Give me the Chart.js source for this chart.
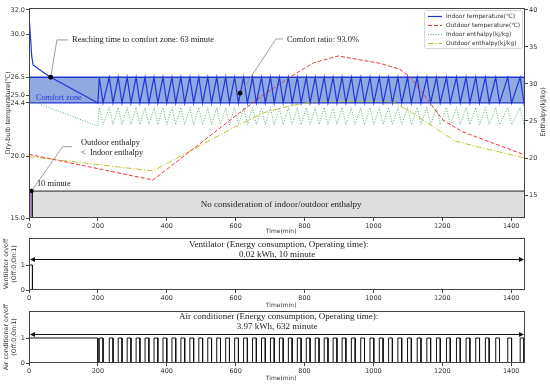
<!DOCTYPE html>
<html><head><meta charset="utf-8">
<script src="https://cdn.jsdelivr.net/npm/chart.js@4.4.0/dist/chart.umd.min.js"></script>
<style>
html,body{margin:0;padding:0;background:#fff;}
#wrap{position:relative;width:550px;height:385px;overflow:hidden;background:#fff}
canvas{position:absolute;left:0}
</style></head><body>
<div id="wrap">
<canvas id="c1" width="550" height="240" style="top:0px"></canvas>
<canvas id="c2" width="550" height="80" style="top:228px"></canvas>
<canvas id="c3" width="550" height="85" style="top:300px"></canvas>
</div>
<script>
// ---------------- DATA ----------------
const timeTicks = [0, 200, 400, 600, 800, 1000, 1200, 1400];
const tempTicks = [15, 20, 24.4, 25, 26.5, 30, 32];
const enthTicks = [15, 20, 25, 30, 35, 40];
const onOffTicks = [0, 1];

const comfortUpper = 26.5;
const comfortLower = 24.4;
const enthalpyBoxTop = 17.2;          // top of grey "no consideration" box (°C axis)
const ventWindow = [0, 10];          // ventilator on, minutes
const acInitialOn = [0, 200];        // AC continuous run, minutes

// indoor temperature pull-down, minutes / °C
const indoorTempInitT = [0, 1, 5, 8, 12, 22, 37, 63, 200];
const indoorTempInitV = [32.0, 31.2, 29.5, 28.2, 27.5, 27.3, 27.0, 26.5, 24.4];
const indoorTempEnd = 24.8;

// AC cycling after 200 min
const acOnStart = [204, 233, 259, 285, 311, 337, 363, 389, 415, 441, 467, 493, 519, 545, 571, 597, 623, 649, 675, 701,
  727, 753, 779, 805, 831, 857, 883, 909, 936, 963, 990, 1017, 1044, 1071, 1099, 1127, 1155, 1183, 1212, 1241,
  1269, 1297, 1325, 1355, 1390, 1426];
const acOnEnd = [215, 244, 270, 296, 322, 348, 374, 400, 426, 452, 478, 504, 530, 556, 582, 608, 634, 660, 686, 712,
  738, 764, 790, 816, 842, 868, 894, 920, 947, 974, 1001, 1028, 1055, 1082, 1110, 1138, 1166, 1194, 1223, 1252,
  1280, 1308, 1336, 1366, 1401, 1437];

// outdoor temperature
const outdoorTempT = [0, 360, 584, 680, 777, 825, 898, 1019, 1077, 1106, 1164, 1202, 1258, 1440];
const outdoorTempV = [20.2, 18.1, 23.0, 25.05, 26.85, 27.67, 28.24, 27.64, 27.15, 26.55, 24.4, 23.0, 22.05, 20.15];

// outdoor enthalpy (kj/kg)
const outdoorEnthT = [0, 360, 584, 680, 753, 816, 845, 1040, 1058, 1106, 1164, 1237, 1295, 1440];
const outdoorEnthV = [20.2, 18.25, 23.85, 26.1, 27.0, 27.5, 27.66, 27.66, 27.5, 26.3, 24.5, 22.3, 21.6, 20.0];

// indoor enthalpy (kj/kg)
const indoorEnthInitT = [14, 200];
const indoorEnthInitV = [27.6, 24.3];
const indoorEnthTop = 26.8;
const indoorEnthBottom = 24.5;
const indoorEnthEnd = 25.0;

// annotation markers
const reachPoint = [63, 26.5];
const ratioPoint = [613, 25.2];
const ventPoint = [7, 17.2];

const seriesLabels = ['Indoor temperature(℃)', 'Outdoor temperature(℃)', 'Indoor enthalpy(kj/kg)', 'Outdoor enthalpy(kj/kg)'];

// ---------------- BUILD TABLES ----------------
const pts = (T, V) => T.map((t, i) => ({x: t, y: V[i]}));
const indoorTemp = pts(indoorTempInitT, indoorTempInitV);
const indoorEnth = pts(indoorEnthInitT, indoorEnthInitV);
acOnStart.forEach((s, i) => {
  indoorTemp.push({x: s, y: comfortUpper}, {x: acOnEnd[i], y: comfortLower});
  indoorEnth.push({x: s, y: indoorEnthTop}, {x: acOnEnd[i], y: indoorEnthBottom});
});
indoorTemp.push({x: 1440, y: indoorTempEnd});
indoorEnth.push({x: 1440, y: indoorEnthEnd});

const acSeries = [{x: acInitialOn[0], y: 1}, {x: acInitialOn[1], y: 1}, {x: acInitialOn[1], y: 0}];
acOnStart.forEach((s, i) => {
  acSeries.push({x: s, y: 0}, {x: s, y: 1}, {x: acOnEnd[i], y: 1}, {x: acOnEnd[i], y: 0});
});
acSeries.push({x: 1440, y: 0});
const ventSeries = [{x: ventWindow[0], y: 1}, {x: ventWindow[1], y: 1}, {x: ventWindow[1], y: 0}, {x: 1440, y: 0}];

// ---------------- STYLE ----------------
const BLUE = '#2236d8', RED = '#e8393b', GREEN = '#4fb06f', YEL = '#c2c52a';
const AX = '#444', TICKC = '#333';
const SANS = '"DejaVu Sans", sans-serif', SERIF = '"Liberation Serif", "Times New Roman", serif';
const tickFont = {family: SANS, size: 6.5};

function fixedTicks(arr) { return s => { s.ticks = arr.map(v => ({value: v})); }; }
function xScale(h) {
  return {type: 'linear', min: 0, max: 1440,
    afterBuildTicks: fixedTicks(timeTicks), afterFit: s => { s.height = h; },
    grid: {display: true, drawOnChartArea: false, tickLength: 3, color: AX},
    border: {display: false},
    ticks: {font: tickFont, color: TICKC, padding: 1, maxRotation: 0, autoSkip: false, callback: v => String(v)}};
}
function yScale(min, max, arr, fmt, pos, w) {
  return {type: 'linear', position: pos, min: min, max: max,
    afterBuildTicks: fixedTicks(arr), afterFit: s => { s.width = w; },
    grid: {display: true, drawOnChartArea: false, tickLength: 3, color: AX},
    border: {display: false},
    ticks: {font: tickFont, color: TICKC, padding: 1, autoSkip: false, callback: fmt}};
}

const framePlugin = {id: 'frame', afterDraw(c) {
  const a = c.chartArea, ctx = c.ctx;
  ctx.save(); ctx.strokeStyle = AX; ctx.lineWidth = 1;
  ctx.strokeRect(Math.round(a.left) + 0.5, Math.round(a.top) + 0.5, Math.round(a.right - a.left) - 1, Math.round(a.bottom - a.top) - 1);
  ctx.restore();
}};

function txt(ctx, s, x, y, font, color, align, rot) {
  ctx.save(); ctx.font = font; ctx.fillStyle = color; ctx.textAlign = align || 'left'; ctx.textBaseline = 'middle';
  ctx.translate(x, y); if (rot) ctx.rotate(rot); ctx.fillText(s, 0, 0); ctx.restore();
}

// ---------------- TOP CHART ----------------
const topTexts = {id: 'topTexts', afterDraw(c) {
  const ctx = c.ctx, x = c.scales.x, y = c.scales.y, a = c.chartArea;
  const af = '8.4px ' + SERIF, sf = '9px ' + SERIF;
  txt(ctx, 'Reaching time to comfort zone: 63 minute', x.getPixelForValue(125), y.getPixelForValue(29.55), af, '#222');
  txt(ctx, 'Comfort ratio: 93.0%', x.getPixelForValue(749), y.getPixelForValue(29.6), af, '#222');
  txt(ctx, 'Comfort zone', x.getPixelForValue(20), y.getPixelForValue(24.8), '8.3px ' + SERIF, BLUE);
  txt(ctx, 'Outdoor enthalpy', x.getPixelForValue(151), y.getPixelForValue(21.15), af, '#222');
  txt(ctx, '<  Indoor enthalpy', x.getPixelForValue(151), y.getPixelForValue(20.34), af, '#222');
  txt(ctx, '10 minute', x.getPixelForValue(23), y.getPixelForValue(17.78), af, '#222');
  txt(ctx, 'No consideration of indoor/outdoor enthalpy', x.getPixelForValue(732), y.getPixelForValue(16.06), sf, '#222', 'center');
  txt(ctx, 'Time(min)', x.getPixelForValue(732), a.bottom + 13, '6px ' + SANS, TICKC, 'center');
  txt(ctx, 'Dry-bulb temperature(℃)', 8, 113, '6.5px ' + SANS, TICKC, 'center', -Math.PI / 2);
  txt(ctx, 'Enthalpy(kj/kg)', 543, 112, '6.5px ' + SANS, TICKC, 'center', -Math.PI / 2);
  // legend
  const lx = 424, ly = 10, lw = 98, lh = 38;
  ctx.save();
  ctx.fillStyle = 'rgba(255,255,255,0.9)'; ctx.strokeStyle = '#ccc'; ctx.lineWidth = 0.8;
  ctx.beginPath(); ctx.roundRect(lx + 0.5, ly + 0.5, lw, lh, 2); ctx.fill(); ctx.stroke();
  const ds = c.data.datasets.filter(d => seriesLabels.includes(d.label));
  seriesLabels.forEach((lab, i) => {
    const d = ds.find(q => q.label === lab);
    const yy = ly + 6.5 + i * 9;
    ctx.save(); ctx.strokeStyle = d.borderColor; ctx.lineWidth = d.borderWidth; ctx.setLineDash(d.borderDash || []);
    ctx.beginPath(); ctx.moveTo(lx + 4, yy); ctx.lineTo(lx + 18, yy); ctx.stroke(); ctx.restore();
    txt(ctx, lab, lx + 22, yy, '5.9px ' + SANS, TICKC);
  });
  ctx.restore();
}};

const line = (label, data, color, w, dash, order, extra) => Object.assign({
  label, data, borderColor: color, borderWidth: w, borderDash: dash || [], pointRadius: 0, tension: 0,
  fill: false, order, yAxisID: 'y'}, extra || {});

new Chart(document.getElementById('c1'), {
  type: 'line',
  data: {datasets: [
    line('band', [{x: 0, y: comfortUpper}, {x: 1440, y: comfortUpper}], BLUE, 1.3, null, 20,
      {fill: {value: comfortLower}, backgroundColor: '#8eaae0'}),
    line('bandLow', [{x: 0, y: comfortLower}, {x: 1440, y: comfortLower}], BLUE, 1.3, null, 19),
    line('box', [{x: 0, y: 15}, {x: 0, y: enthalpyBoxTop}, {x: 1440, y: enthalpyBoxTop}, {x: 1440, y: 15}], '#222', 1, null, 18,
      {fill: 'start', backgroundColor: '#dedede'}),
    line('vent', [{x: ventWindow[0], y: 15}, {x: ventWindow[0], y: enthalpyBoxTop}, {x: ventWindow[1], y: enthalpyBoxTop}, {x: ventWindow[1], y: 15}], '#222', 1, null, 17,
      {fill: 'start', backgroundColor: '#ad7fcb'}),
    line(seriesLabels[3], pts(outdoorEnthT, outdoorEnthV), YEL, 1, [6, 1.8, 1.2, 1.8], 10, {yAxisID: 'y2'}),
    line(seriesLabels[2], indoorEnth, GREEN, 1, [1, 1.6], 9, {yAxisID: 'y2'}),
    line(seriesLabels[1], pts(outdoorTempT, outdoorTempV), RED, 1, [4, 2], 8),
    line(seriesLabels[0], indoorTemp, BLUE, 1.2, null, 7),
    line('lead1', [{x: reachPoint[0], y: reachPoint[1]}, {x: 81, y: 29.55}, {x: 113, y: 29.55}], '#888', 0.8, null, 3),
    line('lead2', [{x: ratioPoint[0], y: ratioPoint[1]}, {x: 717, y: 29.63}, {x: 737, y: 29.63}], '#888', 0.8, null, 3),
    line('lead3', [{x: ventPoint[0], y: ventPoint[1]}, {x: 98, y: 20.83}, {x: 125, y: 20.83}], '#888', 0.8, null, 3),
    line('dots', [{x: reachPoint[0], y: reachPoint[1]}, {x: ratioPoint[0], y: ratioPoint[1]}, {x: ventPoint[0], y: ventPoint[1]}],
      '#000', 0, null, 1, {showLine: false, pointRadius: 2.4, pointBackgroundColor: '#000', pointBorderWidth: 0})
  ]},
  options: {
    responsive: false, animation: false, devicePixelRatio: 1,
    layout: {padding: {top: 8, left: 0, right: 0, bottom: 0}},
    plugins: {legend: {display: false}, tooltip: {enabled: false}},
    scales: {
      x: xScale(22),
      y: yScale(15, 32.16, tempTicks, v => Number(v).toFixed(1), 'left', 29),
      y2: yScale(11.9, 40.25, enthTicks, v => String(v), 'right', 25)
    }
  },
  plugins: [framePlugin, topTexts]
});

// ---------------- ON/OFF PANELS ----------------
function panel(id, series, padTop, xh, title1, title2, arrowVal, yTitle1, cy, t1y, t2y, timeY) {
  const texts = {id: 'texts_' + id, afterDraw(c) {
    const ctx = c.ctx, x = c.scales.x, y = c.scales.y, a = c.chartArea;
    const sf = '9px ' + SERIF;
    txt(ctx, title1, x.getPixelForValue(725), t1y, sf, '#222', 'center');
    txt(ctx, title2, x.getPixelForValue(720), t2y, sf, '#222', 'center');
    // double arrow
    const ay = Math.round(y.getPixelForValue(arrowVal)) + 0.5, l = a.left + 1, r = a.right - 1;
    ctx.save(); ctx.strokeStyle = '#111'; ctx.fillStyle = '#111'; ctx.lineWidth = 1;
    ctx.beginPath(); ctx.moveTo(l + 3, ay); ctx.lineTo(r - 3, ay); ctx.stroke();
    ctx.beginPath(); ctx.moveTo(l, ay); ctx.lineTo(l + 5, ay - 2.5); ctx.lineTo(l + 5, ay + 2.5); ctx.closePath(); ctx.fill();
    ctx.beginPath(); ctx.moveTo(r, ay); ctx.lineTo(r - 5, ay - 2.5); ctx.lineTo(r - 5, ay + 2.5); ctx.closePath(); ctx.fill();
    ctx.restore();
    txt(ctx, 'Time(min)', x.getPixelForValue(732), timeY, '6px ' + SANS, TICKC, 'center');
    txt(ctx, yTitle1, 6, cy, '6.3px ' + SANS, TICKC, 'center', -Math.PI / 2);
    txt(ctx, '(Off:0,On:1)', 14, cy, '6.3px ' + SANS, TICKC, 'center', -Math.PI / 2);
  }};
  new Chart(document.getElementById(id), {
    type: 'line',
    data: {datasets: [line('onoff', series, '#111', 1, null, 1)]},
    options: {
      responsive: false, animation: false, devicePixelRatio: 1,
      layout: {padding: {top: padTop, left: 0, right: 25, bottom: 0}},
      plugins: {legend: {display: false}, tooltip: {enabled: false}},
      scales: {x: xScale(xh), y: yScale(0, 2.08, onOffTicks, v => String(v), 'left', 29)}
    },
    plugins: [framePlugin, texts]
  });
}
panel('c2', ventSeries, 10, 18, 'Ventilator (Energy consumption, Operating time):', '0.02 kWh, 10 minute', 1.26,
  'Ventilator on/off', 36, 17, 26.5, 77);
panel('c3', acSeries, 11, 22, 'Air conditioner (Energy consumption, Operating time):', '3.97 kWh, 632 minute', 1.16,
  'Air conditioner on/off', 37, 17, 27, 78);
</script>
</body></html>
